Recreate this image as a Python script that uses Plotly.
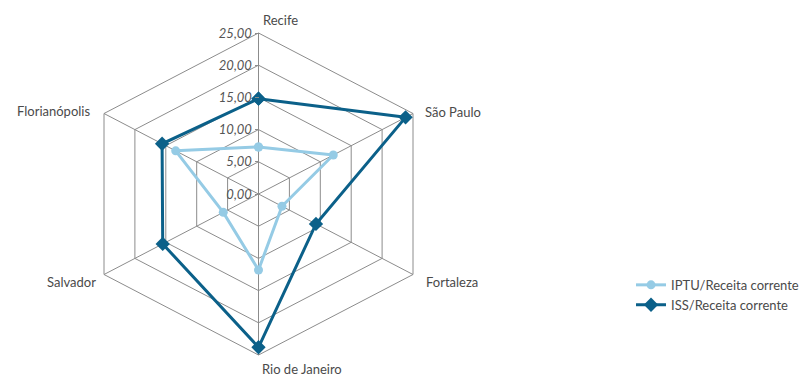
import numpy as np
import plotly.graph_objects as go

# ---- data ----
categories = ["Recife", "São Paulo", "Fortaleza", "Rio de Janeiro", "Salvador", "Florianópolis"]
iptu = [7.3, 12.1, 3.8, 11.8, 5.7, 13.4]
iss = [14.8, 23.8, 9.3, 23.8, 15.5, 15.6]
series_names = ["IPTU/Receita corrente", "ISS/Receita corrente"]
tick_values = [0, 5, 10, 15, 20, 25]
tick_labels = ["0,00", "5,00", "10,00", "15,00", "20,00", "25,00"]

# ---- geometry (radar projected on cartesian axes) ----
n = len(categories)
angles = np.deg2rad(90 - 360.0 / n * np.arange(n))
rmax = tick_values[-1]


def to_xy(vals):
    v = np.array(list(vals) + [vals[0]], dtype=float)
    a = np.append(angles, angles[0])
    return v * np.cos(a), v * np.sin(a)


grid_x, grid_y = [], []
for r in tick_values[1:]:
    gx, gy = to_xy([r] * n)
    grid_x += list(gx) + [None]
    grid_y += list(gy) + [None]
for a in angles:
    grid_x += [0, rmax * np.cos(a), None]
    grid_y += [0, rmax * np.sin(a), None]

fig = go.Figure()
fig.add_trace(go.Scatter(x=grid_x, y=grid_y, mode="lines",
                         line=dict(color="#8c8c8c", width=1),
                         hoverinfo="skip", showlegend=False))

ix, iy = to_xy(iptu)
fig.add_trace(go.Scatter(x=ix, y=iy, mode="lines+markers", name=series_names[0],
                         line=dict(color="#95cbe5", width=3),
                         marker=dict(symbol="circle", size=9, color="#95cbe5")))
sx, sy = to_xy(iss)
fig.add_trace(go.Scatter(x=sx, y=sy, mode="lines+markers", name=series_names[1],
                         line=dict(color="#0b6089", width=3),
                         marker=dict(symbol="diamond", size=11, color="#0b6089")))

# category labels
label_cfg = {
    "Recife": dict(xanchor="left", yanchor="bottom", xshift=3, yshift=4),
    "São Paulo": dict(xanchor="left", yanchor="middle", xshift=11, yshift=2),
    "Fortaleza": dict(xanchor="left", yanchor="middle", xshift=12, yshift=-7),
    "Rio de Janeiro": dict(xanchor="left", yanchor="middle", xshift=2, yshift=-14),
    "Salvador": dict(xanchor="right", yanchor="middle", xshift=-7, yshift=-7),
    "Florianópolis": dict(xanchor="right", yanchor="middle", xshift=-13, yshift=3),
}
for cat, a in zip(categories, angles):
    fig.add_annotation(x=rmax * np.cos(a), y=rmax * np.sin(a), text=cat,
                       showarrow=False, font=dict(size=13, color="#4a4a4a"),
                       borderpad=0, **label_cfg[cat])

W, H = 809, 378
cx, cy = 258.5, 194.0
px_x = 154.5 / (rmax * np.cos(np.deg2rad(30)))
px_y = 161.0 / rmax
xr = [-cx / px_x, (W - cx) / px_x]
yr = [-(H - cy) / px_y, cy / px_y]

fig.update_layout(
    width=W, height=H,
    margin=dict(l=0, r=0, t=0, b=0),
    paper_bgcolor="white", plot_bgcolor="white",
    font=dict(family="Lato, Open Sans, sans-serif", color="#4a4a4a"),
    xaxis=dict(range=xr, visible=False, fixedrange=True),
    yaxis=dict(range=yr, anchor="free", position=cx / W,
               showgrid=False, zeroline=False, showline=False,
               ticks="outside", ticklen=4, tickcolor="#8c8c8c",
               tickvals=tick_values, ticktext=tick_labels,
               tickfont=dict(size=13, color="#555555", style="italic"),
               fixedrange=True),
    legend=dict(x=0.78, y=0.286, xanchor="left", yanchor="top",
                font=dict(size=13, color="#4a4a4a"),
                bgcolor="rgba(0,0,0,0)", tracegroupgap=0),
    showlegend=True,
)

fig.write_html("out.html")
